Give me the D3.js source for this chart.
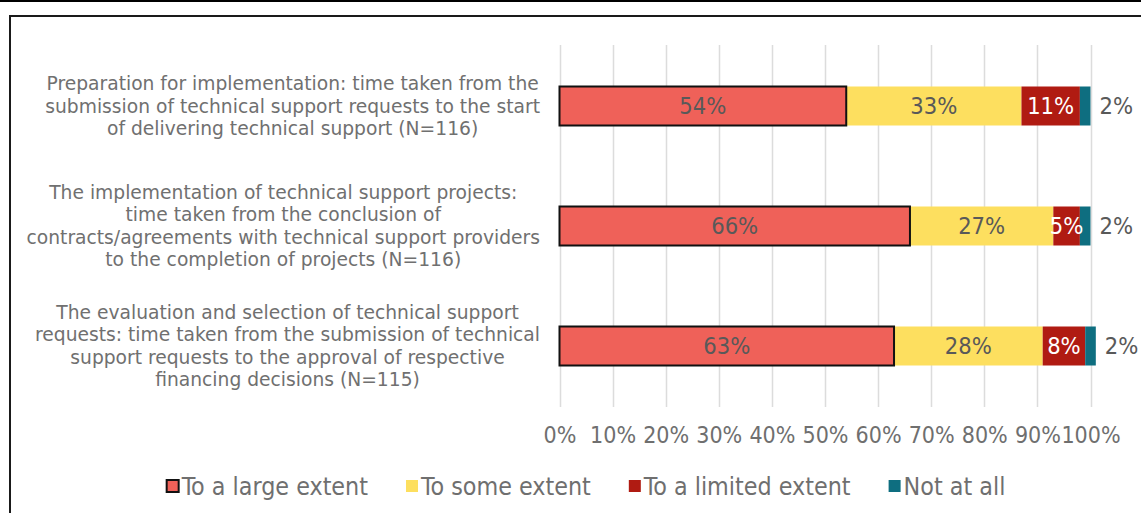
<!DOCTYPE html>
<html>
<head>
<meta charset="utf-8">
<script src="https://cdn.jsdelivr.net/npm/d3@7"></script>
<style>
  html, body { margin: 0; padding: 0; background: #fff; }
  svg { display: block; }
</style>
</head>
<body>
<svg id="chart" width="1141" height="513"></svg>
<script>
// Survey items (one bar each), label lines as they wrap
const categories = [
  "Preparation for implementation",
  "Implementation of projects",
  "Evaluation and selection"
];
const categoryLines = [
  ["Preparation for implementation: time taken from the",
   "submission of technical support requests to the start",
   "of delivering technical support (N=116)"],
  ["The implementation of technical support projects:",
   "time taken from the conclusion of",
   "contracts/agreements with technical support providers",
   "to the completion of projects (N=116)"],
  ["The evaluation and selection of technical support",
   "requests: time taken from the submission of technical",
   "support requests to the approval of respective",
   "financing decisions (N=115)"]
];

// Response shares in percent, one array per answer
const seriesNames = ["To a large extent", "To some extent", "To a limited extent", "Not at all"];
const largeExtent   = [54, 66, 63];
const someExtent    = [33, 27, 28];
const limitedExtent = [11, 5, 8];
const notAtAll      = [2, 2, 2];

const tickValues = [0, 10, 20, 30, 40, 50, 60, 70, 80, 90, 100];

const colors = ["#EF6159", "#FDDF5F", "#B01B12", "#0E6E80"];
const labelColors = ["#595959", "#595959", "#ffffff", "#595959"];

const seriesValues = [largeExtent, someExtent, limitedExtent, notAtAll];

const svg = d3.select("#chart");
const W = 1141, H = 513;

// outer frame lines
svg.append("line").attr("x1", 0).attr("x2", W).attr("y1", 1).attr("y2", 1)
  .attr("stroke", "#000").attr("stroke-width", 2);
svg.append("path").attr("d", `M10,${H} V16 H${W}`)
  .attr("fill", "none").attr("stroke", "#1a1a1a").attr("stroke-width", 2);

const x = d3.scaleLinear().domain([0, 100]).range([559.5, 1090.5]);
const y = d3.scaleBand().domain(categories).range([46, 406])
  .paddingInner(0.675).paddingOuter(0.3375);

const condensed = "'DejaVu Sans Condensed', 'DejaVu Sans', sans-serif";
const regular = "'DejaVu Sans', Verdana, sans-serif";

// vertical gridlines
svg.append("g").selectAll("line").data(tickValues).join("line")
  .attr("x1", d => Math.round(x(d)) + 0.5).attr("x2", d => Math.round(x(d)) + 0.5)
  .attr("y1", 45).attr("y2", 407)
  .attr("stroke", "#dcdcdc").attr("stroke-width", 1.5);

// x axis labels
const xAxis = d3.axisBottom(x).tickValues(tickValues).tickFormat(d => d + "%").tickSize(0).tickPadding(0);
const gx = svg.append("g").attr("transform", "translate(0,426)").call(xAxis);
gx.select(".domain").remove();
gx.selectAll("text")
  .attr("dy", "0.75em")
  .attr("font-family", condensed).attr("font-size", 23).attr("fill", "#6f6f6f");

// stacked segments
const rows = categories.map((c, i) => {
  let acc = 0;
  return seriesValues.map((vals, s) => {
    const seg = { cat: c, s, v: vals[i], x0: acc, x1: acc + vals[i] };
    acc += vals[i];
    return seg;
  });
});
const segs = rows.flat();

const gBars = svg.append("g");
gBars.selectAll("rect").data(segs).join("rect")
  .attr("x", d => x(d.x0)).attr("width", d => x(d.x1) - x(d.x0))
  .attr("y", d => y(d.cat)).attr("height", y.bandwidth())
  .attr("fill", d => colors[d.s]);
// outline on the first series
gBars.selectAll("rect.outline").data(segs.filter(d => d.s === 0)).join("rect")
  .attr("class", "outline")
  .attr("x", d => x(d.x0)).attr("width", d => x(d.x1) - x(d.x0))
  .attr("y", d => y(d.cat)).attr("height", y.bandwidth())
  .attr("fill", "none").attr("stroke", "#111").attr("stroke-width", 2);

// value labels
svg.append("g").selectAll("text").data(segs).join("text")
  .attr("x", d => d.s === 3 ? x(d.x1) + 9 : (x(d.x0) + x(d.x1)) / 2)
  .attr("y", d => y(d.cat) + y.bandwidth() / 2)
  .attr("dy", "0.35em")
  .attr("text-anchor", d => d.s === 3 ? "start" : "middle")
  .attr("font-family", condensed).attr("font-size", 23.5)
  .attr("fill", d => labelColors[d.s])
  .text(d => d.v + "%");

// category labels: block right-aligned to the plot, lines centred within it
const lineH = 22.5;
const gCat = svg.append("g");
categories.forEach((c, i) => {
  const lines = categoryLines[i];
  const cy = y(c) + y.bandwidth() / 2;
  const t = gCat.append("text")
    .attr("font-family", regular).attr("font-size", 18.7)
    .attr("fill", "#707070").attr("text-anchor", "middle");
  const spans = t.selectAll("tspan").data(lines).join("tspan")
    .attr("y", (d, k) => cy + (k - (lines.length - 1) / 2) * lineH)
    .attr("dy", "0.35em")
    .text(d => d);
  let maxW = 0;
  spans.each(function () { maxW = Math.max(maxW, this.getComputedTextLength()); });
  spans.attr("x", 540 - maxW / 2);
});

// legend
const gLeg = svg.append("g").attr("font-family", condensed).attr("font-size", 24.8).attr("fill", "#6f6f6f");
const items = gLeg.selectAll("g").data(seriesNames).join("g");
items.append("rect")
  .attr("width", 12).attr("height", 12).attr("y", 480)
  .attr("fill", (d, i) => colors[i])
  .attr("stroke", (d, i) => i === 0 ? "#111" : "none").attr("stroke-width", 2);
items.append("text").attr("x", 15).attr("y", 486).attr("dy", "0.35em").text(d => d);
let cursor = 0;
const offsets = [];
items.each(function () {
  const tw = d3.select(this).select("text").node().getComputedTextLength();
  offsets.push(cursor);
  cursor += 15 + tw + 38;
});
const legW = cursor - 38;
const legX = 586 - legW / 2;
items.attr("transform", (d, i) => `translate(${legX + offsets[i]},0)`);
</script>
</body>
</html>
